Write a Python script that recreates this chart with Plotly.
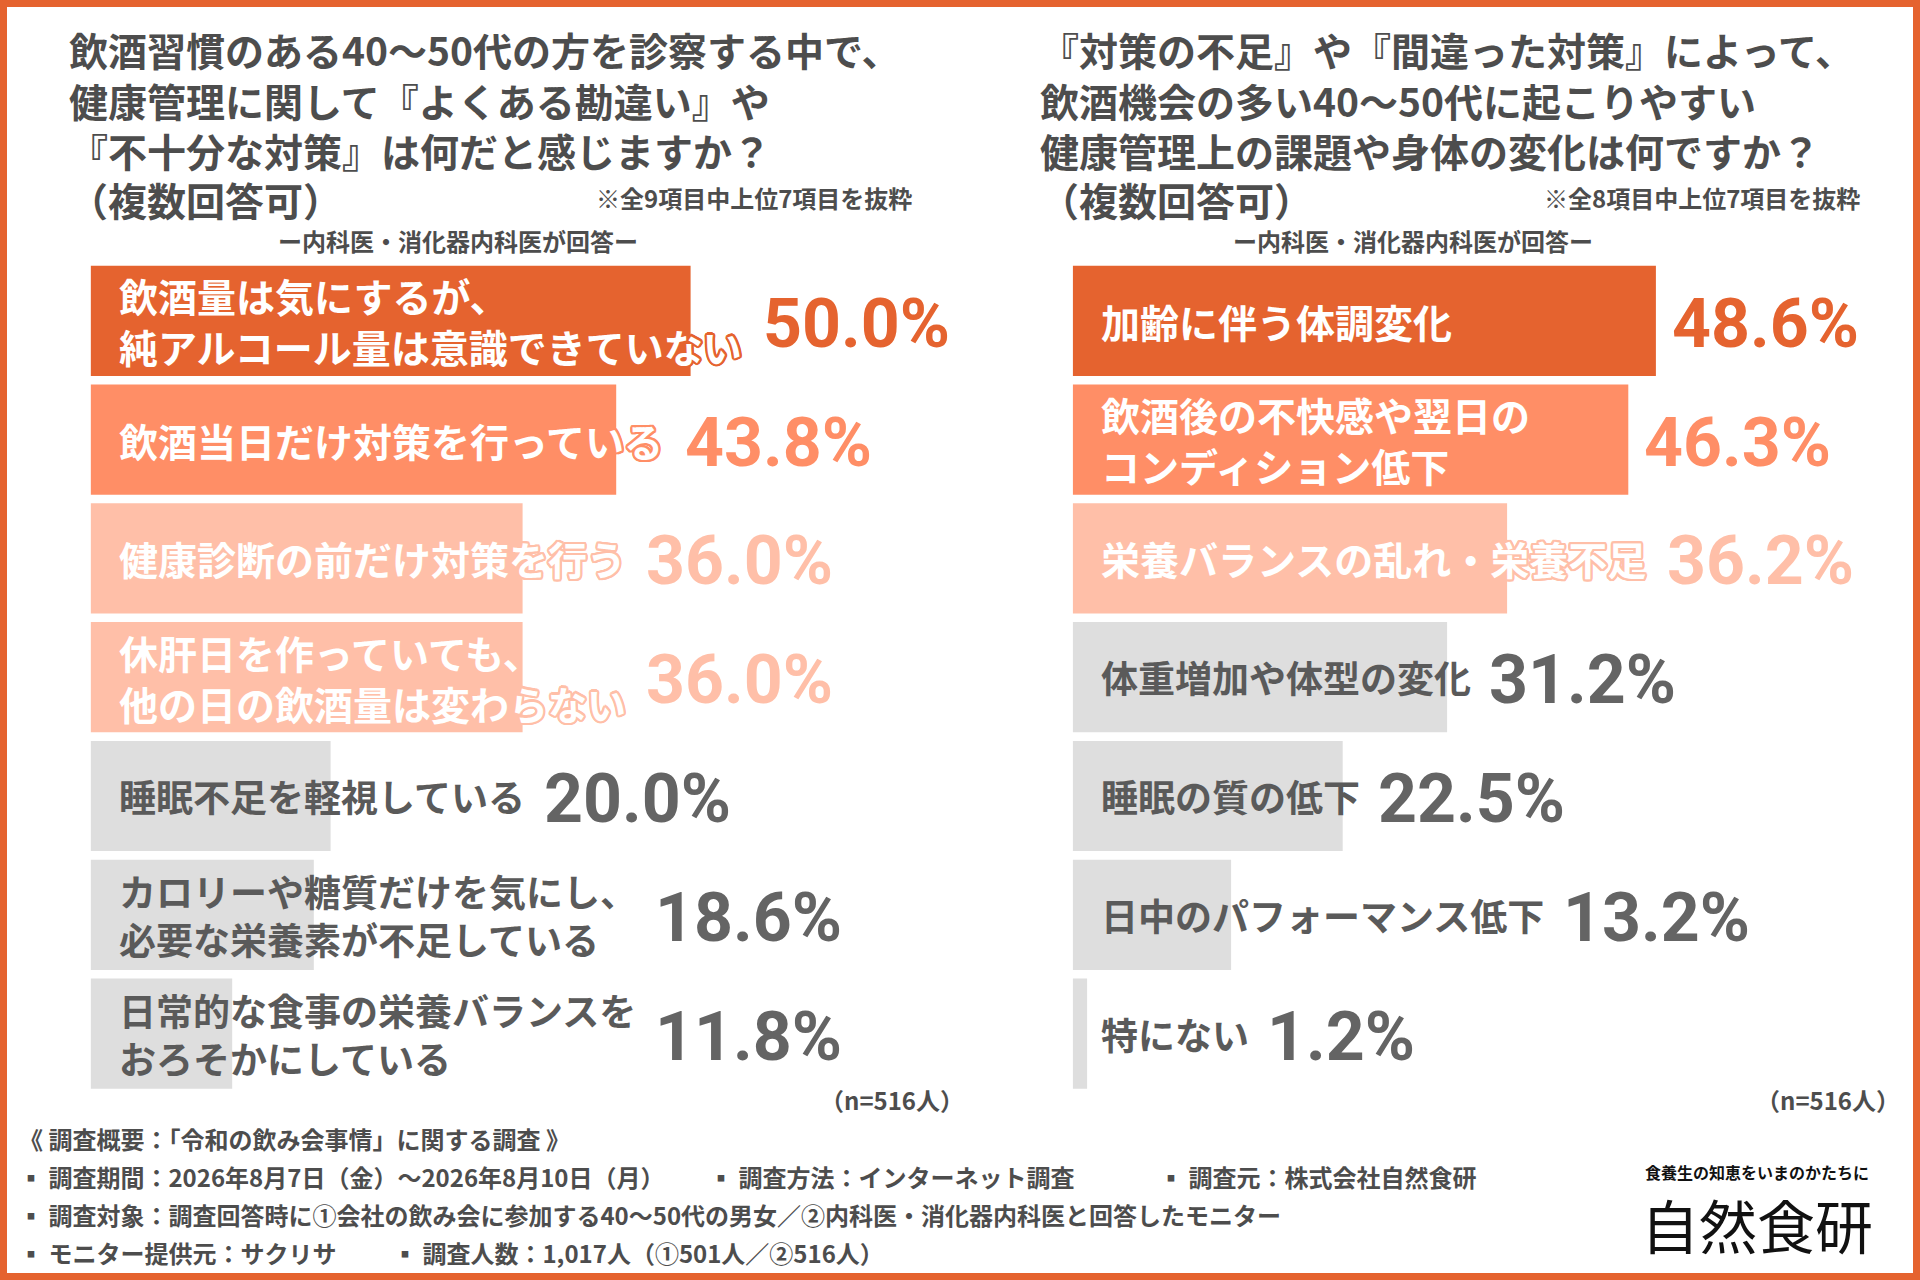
import math
import plotly.graph_objects as go

# ---- data ----------------------------------------------------------------
left_labels = [
    "飲酒量は気にするが、<br>純アルコール量は意識できていない",
    "飲酒当日だけ対策を行っている",
    "健康診断の前だけ対策を行う",
    "休肝日を作っていても、<br>他の日の飲酒量は変わらない",
    "睡眠不足を軽視している",
    "カロリーや糖質だけを気にし、<br>必要な栄養素が不足している",
    "日常的な食事の栄養バランスを<br>おろそかにしている",
]
left_values = [50.0, 43.8, 36.0, 36.0, 20.0, 18.6, 11.8]

right_labels = [
    "加齢に伴う体調変化",
    "飲酒後の不快感や翌日の<br>コンディション低下",
    "栄養バランスの乱れ・栄養不足",
    "体重増加や体型の変化",
    "睡眠の質の低下",
    "日中のパフォーマンス低下",
    "特にない",
]
right_values = [48.6, 46.3, 36.2, 31.2, 22.5, 13.2, 1.2]

left_title = [
    "飲酒習慣のある40～50代の方を診察する中で、",
    "健康管理に関して『よくある勘違い』や",
    "『不十分な対策』は何だと感じますか？",
]
right_title = [
    "『対策の不足』や『間違った対策』によって、",
    "飲酒機会の多い40～50代に起こりやすい",
    "健康管理上の課題や身体の変化は何ですか？",
]
title_tail = "（複数回答可）"
left_note = "※全9項目中上位7項目を抜粋"
right_note = "※全8項目中上位7項目を抜粋"
subtitle = "ー内科医・消化器内科医が回答ー"
sample = "（n=516人）"

footer = [
    ("《 調査概要：「令和の飲み会事情」に関する調査 》", 17, 1138),
    ("▪ 調査期間：2026年8月7日（金）～2026年8月10日（月）", 17, 1176),
    ("▪ 調査方法：インターネット調査", 707, 1176),
    ("▪ 調査元：株式会社自然食研", 1157, 1176),
    ("▪ 調査対象：調査回答時に①会社の飲み会に参加する40～50代の男女／②内科医・消化器内科医と回答したモニター", 17, 1214),
    ("▪ モニター提供元：サクリサ", 17, 1252),
    ("▪ 調査人数：1,017人（①501人／②516人）", 391, 1252),
]

# ---- style ---------------------------------------------------------------
W, H = 1920, 1280
ORANGE = "#E5632F"
BAR_COLORS = [ORANGE, "#FF8E66", "#FFBFA8", "#DEDEDE"]
GRAY_LABEL = "#5A5A5A"
GRAY_VALUE = "#646464"
TITLE_COLOR = "#4D4D4D"
left_tiers = [0, 1, 2, 2, 3, 3, 3]
right_tiers = [0, 1, 2, 3, 3, 3, 3]

JP = "Noto Sans CJK JP"
NUM = "Roboto, Liberation Sans, sans-serif"

PX_PER_PCT = 12
X_MAX = 70
LEFT_X0 = 90.6
RIGHT_X0 = 1072.7
LABEL_PAD = 26
GAP_AFTER_BAR = 14
Y_TOP, Y_BOT = 261.4, 1093.0


def outline(c, r=2.3, n=16):
    pts = []
    for k in range(n):
        a = 2 * math.pi * k / n
        pts.append(f"{r * math.cos(a):.1f}px {r * math.sin(a):.1f}px 0 {c}")
    return ", ".join(pts)


def pxx(x):
    return x / W


def pxy(y):
    return 1 - y / H


fig = go.Figure()
annotations = []

panels = [
    (left_labels, left_values, left_tiers, "x", "y"),
    (right_labels, right_values, right_tiers, "x2", "y2"),
]

for labels, values, tiers, xa, ya in panels:
    rows = list(range(len(values)))
    fig.add_trace(go.Bar(
        x=values, y=rows, orientation="h",
        marker=dict(color=[BAR_COLORS[t] for t in tiers], line_width=0),
        xaxis=xa, yaxis=ya, hoverinfo="skip", showlegend=False,
    ))
    for i, (lab, val, t) in enumerate(zip(labels, values, tiers)):
        colored = t < 3
        size = 39 if colored else 37
        font = dict(family=JP, size=size, weight="bold",
                    color="white" if colored else GRAY_LABEL)
        if colored:
            font["shadow"] = outline(BAR_COLORS[t])
        annotations.append(dict(
            x=0, y=i, xref=xa, yref=ya, xshift=LABEL_PAD,
            xanchor="left", yanchor="middle", align="left",
            text=lab, showarrow=False, font=font,
        ))
        # value sits right of whichever ends later: the bar or its label
        nchars = max(len(s) for s in lab.split("<br>"))
        gap = 20 if colored else 18
        label_end = (LABEL_PAD + nchars * size + gap) / PX_PER_PCT
        vx = max(val + GAP_AFTER_BAR / PX_PER_PCT, label_end)
        annotations.append(dict(
            x=vx, y=i, xref=xa, yref=ya, xanchor="left", yanchor="middle",
            yshift=-3, showarrow=False, text=f"{val:.1f}%",
            font=dict(family=NUM, size=68, weight="bold",
                      color=BAR_COLORS[t] if colored else GRAY_VALUE),
        ))

# titles
for lines, tx in [(left_title, 67), (right_title, 1038)]:
    annotations.append(dict(
        x=pxx(tx), y=pxy(19), xref="paper", yref="paper",
        xanchor="left", yanchor="top", align="left",
        text="<br>".join(lines), showarrow=False,
        font=dict(family=JP, size=39, weight="bold", color=TITLE_COLOR),
    ))
    annotations.append(dict(
        x=pxx(tx), y=pxy(199), xref="paper", yref="paper",
        xanchor="left", yanchor="middle", text=title_tail, showarrow=False,
        font=dict(family=JP, size=39, weight="bold", color=TITLE_COLOR),
    ))

for note, nx in [(left_note, 914), (right_note, 1862)]:
    annotations.append(dict(
        x=pxx(nx), y=pxy(197), xref="paper", yref="paper", xanchor="right",
        yanchor="middle", text=note, showarrow=False,
        font=dict(family=JP, size=24, weight="bold", color=TITLE_COLOR),
    ))

for cx in [458, 1413]:
    annotations.append(dict(
        x=pxx(cx), y=pxy(241), xref="paper", yref="paper", xanchor="center",
        yanchor="middle", text=subtitle, showarrow=False,
        font=dict(family=JP, size=24, weight="bold", color=TITLE_COLOR),
    ))

for rx in [966, 1902]:
    annotations.append(dict(
        x=pxx(rx), y=pxy(1099), xref="paper", yref="paper", xanchor="right",
        yanchor="middle", text=sample, showarrow=False,
        font=dict(family=JP, size=24, weight="bold", color=TITLE_COLOR),
    ))

for text, fx, fy in footer:
    annotations.append(dict(
        x=pxx(fx), y=pxy(fy), xref="paper", yref="paper", xanchor="left",
        yanchor="middle", text=text, showarrow=False,
        font=dict(family=JP, size=24, weight="bold", color=TITLE_COLOR),
    ))

# logo
annotations.append(dict(
    x=pxx(1757), y=pxy(1172), xref="paper", yref="paper", xanchor="center",
    yanchor="middle", text="食養生の知恵をいまのかたちに", showarrow=False,
    font=dict(family=JP, size=16, weight="bold", color="#111111"),
))
annotations.append(dict(
    x=pxx(1757), y=pxy(1224), xref="paper", yref="paper", xanchor="center",
    yanchor="middle", text="自然食研", showarrow=False,
    font=dict(family=JP, size=58, weight="normal", color="#111111"),
))

axis_off = dict(showgrid=False, zeroline=False, showticklabels=False,
                showline=False, fixedrange=True)

fig.update_layout(
    width=W, height=H,
    margin=dict(l=0, r=0, t=0, b=0),
    paper_bgcolor="white", plot_bgcolor="white",
    bargap=0.072,
    xaxis=dict(domain=[pxx(LEFT_X0), pxx(LEFT_X0 + X_MAX * PX_PER_PCT)],
               range=[0, X_MAX], **axis_off),
    yaxis=dict(domain=[pxy(Y_BOT), pxy(Y_TOP)], range=[6.5, -0.5], **axis_off),
    xaxis2=dict(domain=[pxx(RIGHT_X0), pxx(RIGHT_X0 + X_MAX * PX_PER_PCT)],
                range=[0, X_MAX], anchor="y2", **axis_off),
    yaxis2=dict(domain=[pxy(Y_BOT), pxy(Y_TOP)], range=[6.5, -0.5],
                anchor="x2", **axis_off),
    annotations=annotations,
    shapes=[dict(type="rect", xref="paper", yref="paper", x0=0, x1=1, y0=0, y1=1,
                 line=dict(color=ORANGE, width=14), layer="above")],
)

fig.write_html("out.html", config={"displayModeBar": False},
               post_script="document.body.style.margin = '0';")
